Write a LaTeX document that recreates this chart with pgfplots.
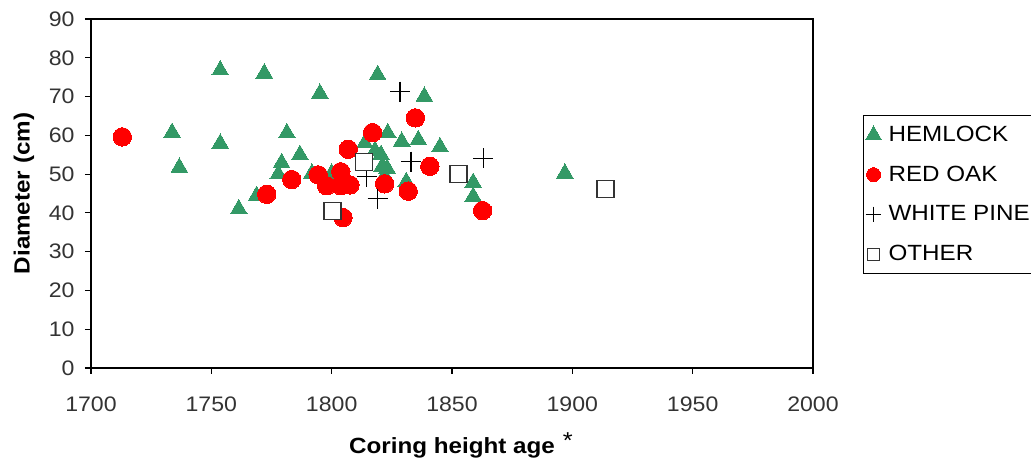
\documentclass[border=0pt]{standalone}
\usepackage{pgfplots}
\pgfplotsset{compat=1.18}
\usepackage{fontspec}
\setmainfont{Liberation Sans}[FakeStretch=1.1]
\definecolor{hem}{RGB}{51,153,102}
\pgfplotsset{lim/.style={legend image code/.code={\path[draw=none,fill=none] (0pt,0pt) (20pt,0pt); \draw[##1] plot[only marks] coordinates {(8pt,0pt)};}}}
\begin{document}
\begin{tikzpicture}
\useasboundingbox (-91pt,-92pt) rectangle (940pt,368pt);
\clip (-91pt,-92pt) rectangle (940pt,368pt);
\begin{axis}[
  at={(0pt,0pt)}, anchor=south west,
  scale only axis, width=722pt, height=349pt,
  xmin=1700, xmax=2000, ymin=0, ymax=90,
  xtick={1700,1750,...,2000}, ytick={0,10,...,90},
  tick align=outside, xtick pos=bottom, ytick pos=left,
  major tick length=6pt,
  axis line style={line width=1.1pt, black},
  every tick/.style={line width=1.1pt, black},
  ticklabel style={font=\fontsize{21}{24}\selectfont, text=black!80},
  xticklabel style={yshift=-19pt},
  yticklabel style={xshift=-7pt},
  /pgf/number format/assume math mode=true,
  /pgf/number format/1000 sep={},
  xlabel={\textbf{Coring height age}\rlap{\hspace{8pt}\raisebox{5pt}{\fontsize{23}{23}\selectfont *}}},
  xlabel style={at={(axis description cs:0.5,-0.2206)}, anchor=center, font=\fontsize{22}{26}\selectfont},
  ylabel={\textbf{Diameter (cm)}},
  ylabel style={at={(axis description cs:-0.0928,0.5)}, anchor=center, font=\fontsize{22}{26}\selectfont},
  legend style={at={(axis description cs:1.0693,0.725)}, anchor=north west,
    draw=black, line width=1pt, fill=white, font=\fontsize{22}{26}\selectfont,
    nodes={text height=15pt, text depth=2pt, inner sep=3pt}, row sep=16.7pt,
    inner xsep=2pt, inner ysep=8pt},
  legend cell align=left,
  clip=false,
]
\addplot[only marks, lim, mark=triangle*, mark size=9.6pt, mark options={fill=hem, draw=hem, line width=0pt},
  legend image post style={mark size=9pt}] coordinates {
(1733.7,60.7) (1736.7,51.7) (1753.7,76.8) (1753.7,57.9) (1761.4,41.0)
(1768.8,44.4) (1772,76) (1777.8,50.0) (1779.2,52.9) (1781.4,60.6)
(1786.8,55.0) (1791.8,50.2) (1795.1,70.8) (1800,50.2) (1813.8,58.0)
(1818,56) (1819.1,75.6) (1820.5,55) (1821,52) (1823,51.5)
(1822,49.5) (1823.3,60.6) (1829.1,58.4) (1831,48) (1836,58.8)
(1838.5,70.0) (1845,57) (1858.8,47.8) (1858.8,44.2) (1896.9,50.2)
};
\addlegendentry{HEMLOCK}
\addplot[only marks, lim, mark=*, mark size=9.2pt, mark options={fill=red, draw=red, line width=0pt},
  legend image post style={mark size=7pt}] coordinates {
(1713,59.6) (1773,44.8) (1783.4,48.6) (1794.4,49.8) (1797.9,47.0)
(1803.8,50.6) (1803.8,47.0) (1806.9,56.4) (1807.6,47.2) (1804.7,38.8)
(1817,60.7) (1822,47.5) (1831.8,45.6) (1834.8,64.5) (1840.8,52)
(1862.7,40.6)
};
\addlegendentry{RED OAK}
\addplot[only marks, lim, mark=+, mark size=10pt, mark options={draw=black, line width=1.3pt},
  legend image post style={mark size=7.8pt, mark options={draw=black, line width=0.9pt}}] coordinates {
(1814.5,49.3) (1819.1,43.7) (1828.4,71.3) (1833,53.2) (1863,54.1)
};
\addlegendentry{WHITE PINE}
\addplot[only marks, lim, mark=square*, mark size=8.5pt, mark options={fill=white, draw=black!80, line width=1.5pt},
  legend image post style={mark size=6pt, mark options={fill=white, draw=black!80, line width=1pt}}] coordinates {
(1800.3,40.5) (1813.4,53.1) (1852.6,50) (1913.8,46.1)
};
\addlegendentry{OTHER}
\end{axis}
\end{tikzpicture}
\end{document}
